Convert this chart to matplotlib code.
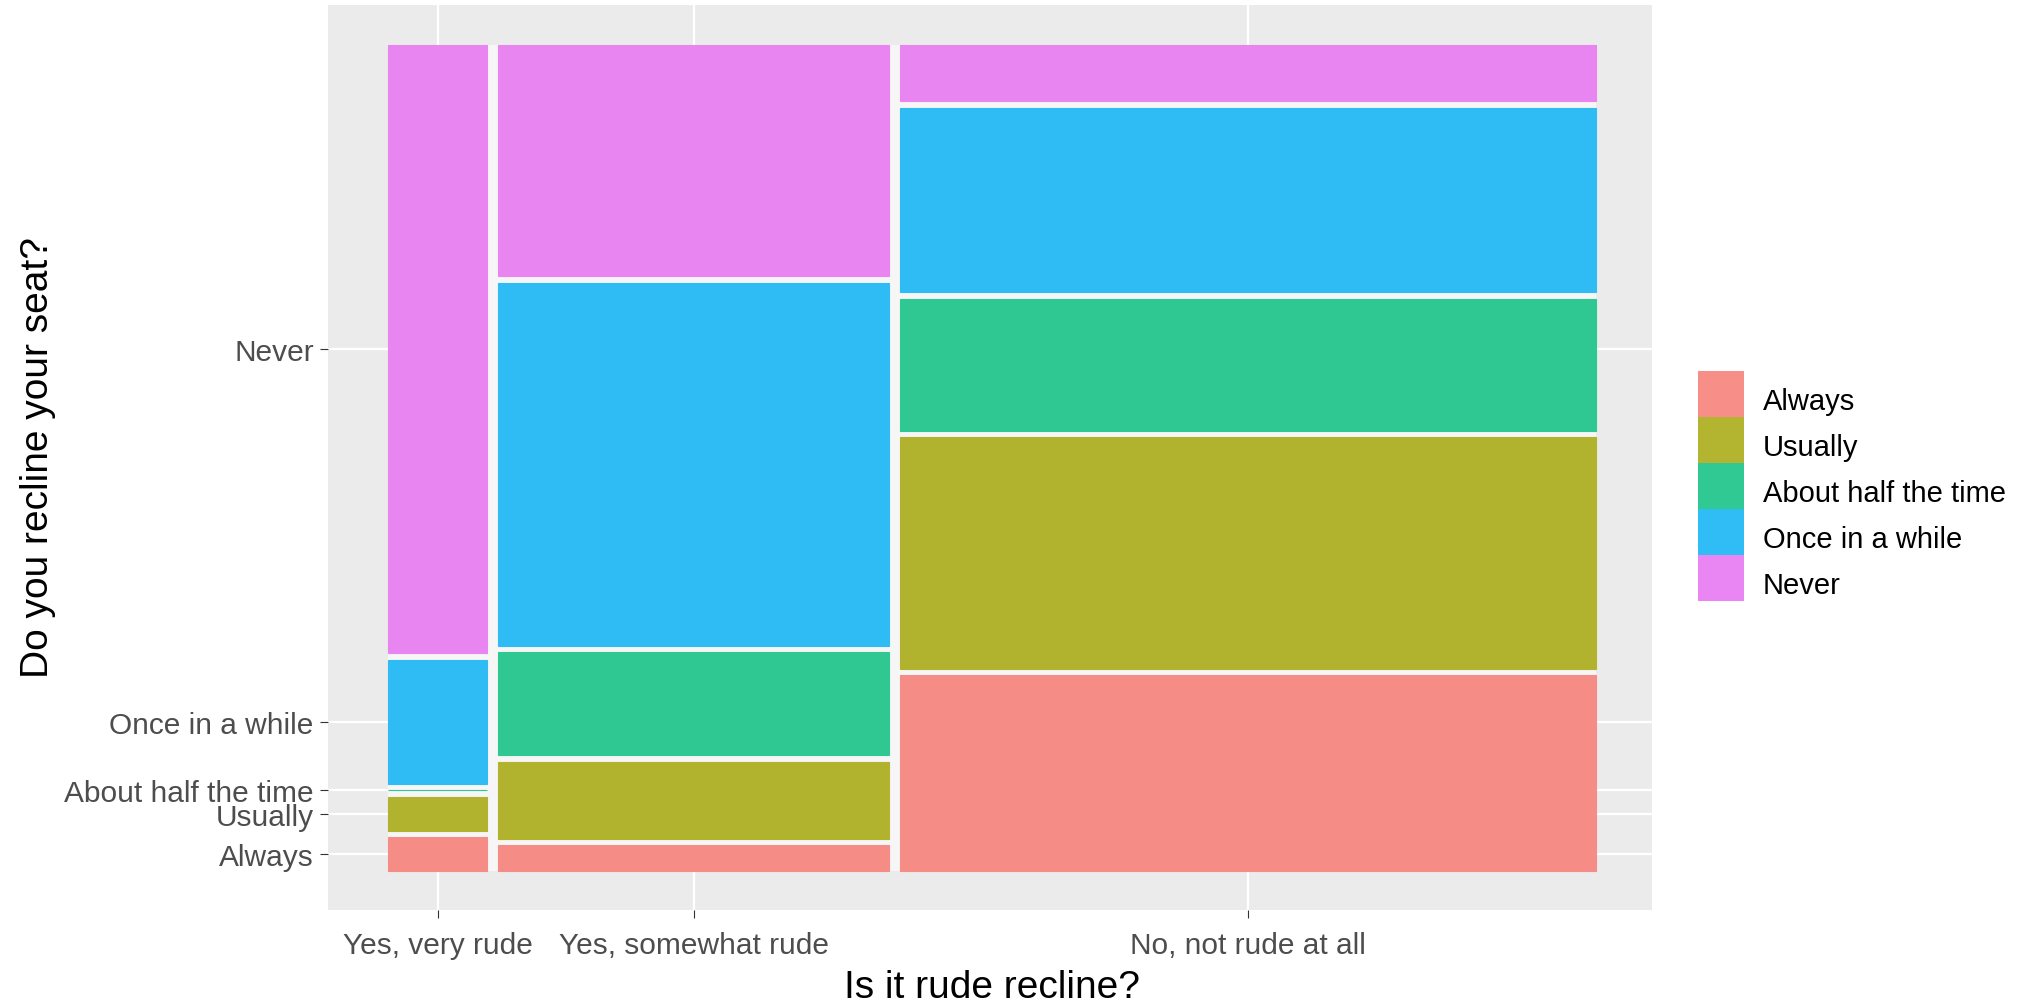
import matplotlib
matplotlib.use("Agg")
import matplotlib.pyplot as plt
from matplotlib.patches import Rectangle
from matplotlib.colors import to_rgb
import numpy as np

plt.rcParams["font.family"] = ["Liberation Sans", "DejaVu Sans"]

# ---- data -------------------------------------------------------------
rude_levels = ["Yes, very rude", "Yes, somewhat rude", "No, not rude at all"]
recline_levels = ["Always", "Usually", "About half the time", "Once in a while", "Never"]

# respondents per recline answer (Always .. Never), one list per rudeness answer
counts_very_rude = [3, 3, 0, 11, 54]
counts_somewhat_rude = [9, 27, 36, 127, 81]
counts_not_rude = [122, 144, 82, 115, 35]

fill_colors = ["#F8766D", "#A3A500", "#00BF7D", "#00B0F6", "#E76BF3"]

# ---- styling ------------------------------------------------------------
W, H, DPI = 2039, 1004, 100
panel_bg = "#EBEBEB"
alpha = 0.8
gap_x = 0.0091
gap_y = 0.0079


def blend(c, bg=panel_bg, a=alpha):
    c = np.array(to_rgb(c))
    b = np.array(to_rgb(bg))
    return tuple(a * c + (1 - a) * b)


tile_colors = [blend(c) for c in fill_colors]

fig = plt.figure(figsize=(W / DPI, H / DPI), dpi=DPI, facecolor="white")
ax = fig.add_axes([328 / W, 1 - 911 / H, (1652 - 328) / W, (911 - 6) / H])
ax.set_facecolor(panel_bg)
ax.set_xlim(-60 / 1208, 1 + 56 / 1208)
ax.set_ylim(-39 / 826, 1 + 40 / 826)
for s in ax.spines.values():
    s.set_visible(False)

# light strip behind the tiles so the gaps read as pale separators
ax.add_patch(Rectangle((0, 0), 1, 1, facecolor="#F6F6F6", edgecolor="none", zorder=1.5))

table = [counts_very_rude, counts_somewhat_rude, counts_not_rude]
col_totals = [sum(r) for r in table]
N = sum(col_totals)
avail_x = 1 - gap_x * (len(table) - 1)
avail_y = 1 - gap_y * (len(recline_levels) - 1)

x_centers = []
y_centers_first = []
x0 = 0.0
for ci, row in enumerate(table):
    w = avail_x * col_totals[ci] / N
    y0 = 0.0
    for li, c in enumerate(row):
        h = avail_y * c / col_totals[ci]
        ax.add_patch(Rectangle((x0, y0), w, h, facecolor=tile_colors[li],
                               edgecolor=tile_colors[li], linewidth=0.8, zorder=2))
        if ci == 0:
            y_centers_first.append(y0 + h / 2)
        y0 += h + gap_y
    x_centers.append(x0 + w / 2)
    x0 += w + gap_x

ax.set_xticks(x_centers)
ax.set_xticklabels(rude_levels)
ax.set_yticks(y_centers_first)
ax.set_yticklabels(recline_levels)
ax.set_axisbelow(True)
ax.grid(True, color="white", linewidth=1.6)
ax.tick_params(axis="both", length=5.8, width=0.8, color="#333333",
               labelcolor="#4D4D4D", labelsize=21.5)
ax.tick_params(axis="x", pad=9.0)
ax.tick_params(axis="y", pad=4.5)

# axis titles
fig.text(992 / W, 1 - 998 / H, "Is it rude recline?", ha="center", va="baseline",
         fontsize=28, color="black")
fig.text(38 / W, 1 - 458 / H, "Do you recline your seat?", ha="center", va="center",
         rotation=90, fontsize=28, color="black")

# legend
key_left, key_w, key_h, key_top = 1698, 46, 46, 372
lax = fig.add_axes([key_left / W, 1 - (key_top + key_h * len(recline_levels)) / H,
                    key_w / W, key_h * len(recline_levels) / H])
lax.set_xlim(0, 1)
lax.set_ylim(len(recline_levels), 0)
lax.axis("off")
for i, lev in enumerate(recline_levels):
    lax.add_patch(Rectangle((0, i), 1, 1, facecolor=blend(fill_colors[i], "#F2F2F2"),
                            edgecolor="none"))
    yc = key_top + key_h * (i + 0.5)
    fig.text(1763 / W, 1 - (yc + 15) / H, lev, ha="left", va="baseline",
             fontsize=21, color="black")

fig.savefig("out.png", dpi=DPI, facecolor="white")
